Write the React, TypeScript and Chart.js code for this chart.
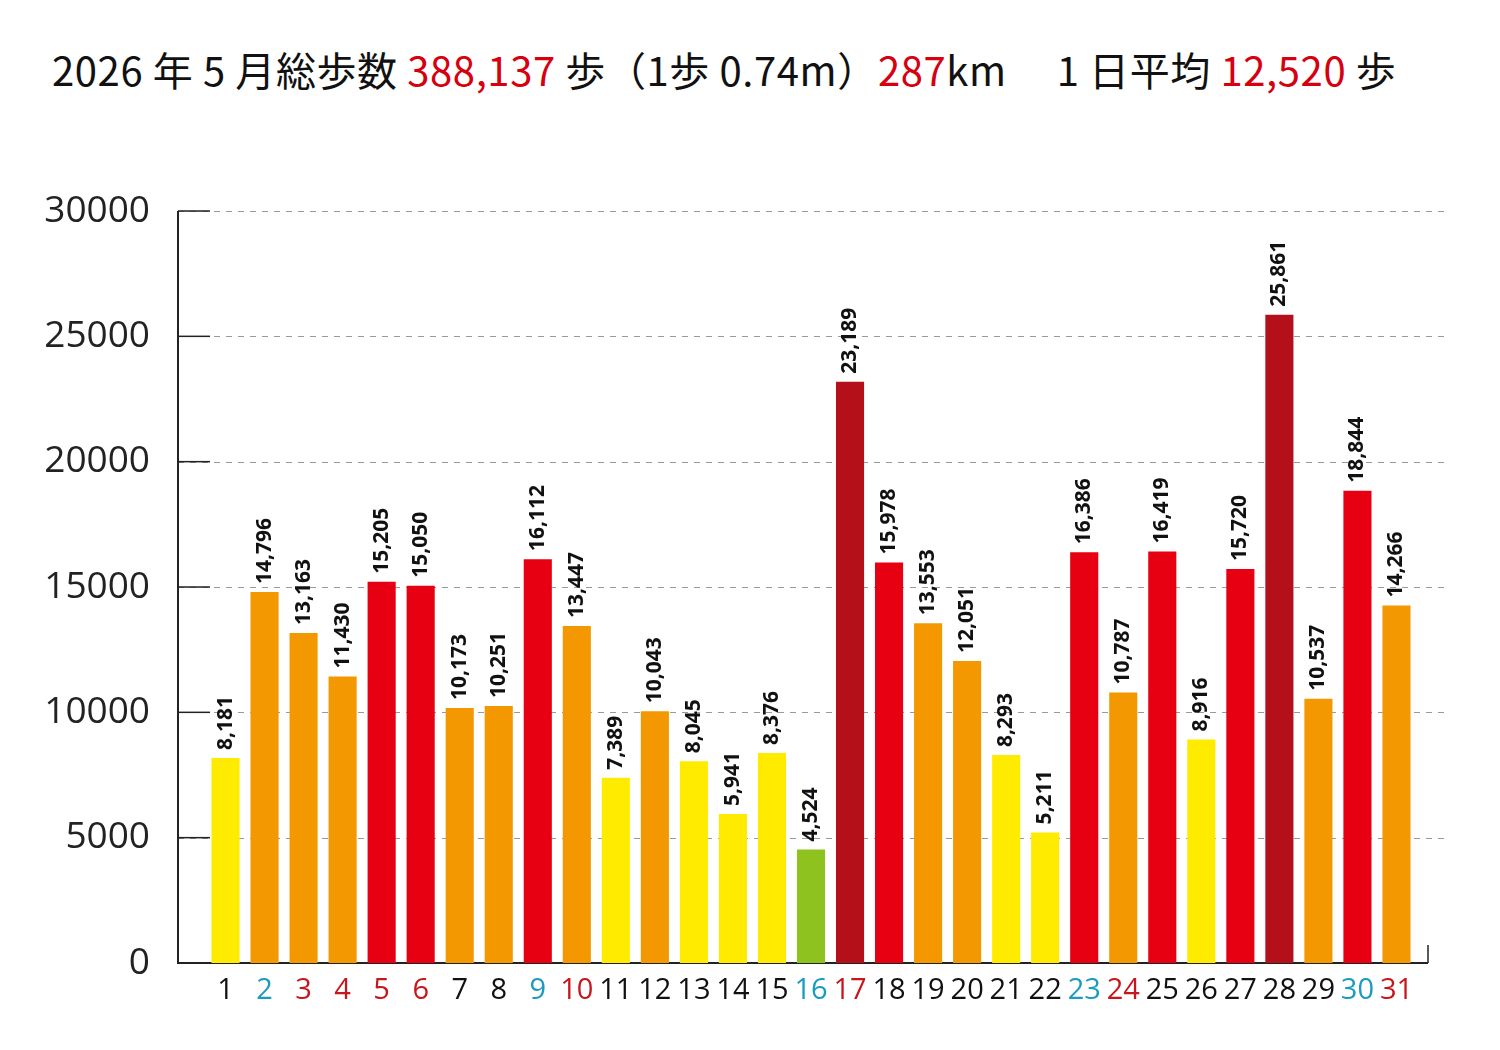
import React, { useEffect, useRef } from "react";
import { Chart, registerables } from "chart.js";
Chart.register(...registerables);

const days = Array.from({ length: 31 }, (_, i) => String(i + 1));
const steps = [8181, 14796, 13163, 11430, 15205, 15050, 10173, 10251, 16112, 13447, 7389, 10043, 8045, 5941, 8376, 4524, 23189, 15978, 13553, 12051, 8293, 5211, 16386, 10787, 16419, 8916, 15720, 25861, 10537, 18844, 14266];
const blueDays = [2, 9, 16, 23, 30];
const redDays = [3, 4, 5, 6, 10, 17, 24, 31];
const yTicks = [0, 5000, 10000, 15000, 20000, 25000, 30000];

const barColor = (v: number) =>
  v < 5000 ? "#8dc21f" : v < 10000 ? "#ffeb00" : v < 15000 ? "#f39800" : v < 20000 ? "#e60012" : "#b3101a";
const dayColor = (d: number) => (blueDays.includes(d) ? "#1a9bbf" : redDays.includes(d) ? "#c8161d" : "#111");

const FONT = "'Open Sans', 'Noto Sans', sans-serif";
const AXIS_X = 178;
const AXIS_RIGHT = 1428;
const GRID_RIGHT = 1445;

const labelPlugin = {
  id: "labels",
  beforeDatasetsDraw(chart: any) {
    const ctx = chart.ctx;
    const y = chart.scales.y;
    const a = chart.chartArea;
    ctx.save();
    ctx.strokeStyle = "#9a9a9a";
    ctx.lineWidth = 1;
    ctx.setLineDash([6, 6]);
    yTicks.slice(1).forEach((t) => {
      const py = Math.round(y.getPixelForValue(t)) + 0.5;
      ctx.beginPath();
      ctx.moveTo(AXIS_X, py);
      ctx.lineTo(GRID_RIGHT, py);
      ctx.stroke();
    });
    ctx.setLineDash([]);
    ctx.strokeStyle = "#222";
    ctx.lineWidth = 1.5;
    yTicks.forEach((t) => {
      const py = y.getPixelForValue(t);
      ctx.beginPath();
      ctx.moveTo(AXIS_X, py);
      ctx.lineTo(AXIS_X + 32, py);
      ctx.stroke();
    });
    ctx.lineWidth = 2;
    ctx.beginPath();
    ctx.moveTo(AXIS_X, y.getPixelForValue(30000));
    ctx.lineTo(AXIS_X, a.bottom);
    ctx.lineTo(AXIS_RIGHT, a.bottom);
    ctx.stroke();
    ctx.lineWidth = 1.5;
    ctx.beginPath();
    ctx.moveTo(AXIS_RIGHT, a.bottom);
    ctx.lineTo(AXIS_RIGHT, a.bottom - 18);
    ctx.stroke();
    ctx.restore();
  },
  afterDatasetsDraw(chart: any) {
    const ctx = chart.ctx;
    const meta = chart.getDatasetMeta(0);
    ctx.save();
    ctx.font = `bold 21px ${FONT}`;
    ctx.fillStyle = "#111";
    ctx.textAlign = "left";
    ctx.textBaseline = "middle";
    meta.data.forEach((bar: any, i: number) => {
      ctx.save();
      ctx.translate(bar.x, bar.y - 8);
      ctx.rotate(-Math.PI / 2);
      ctx.fillText(steps[i].toLocaleString("en-US"), 0, 0);
      ctx.restore();
    });
    ctx.restore();
  },
};

export default function App() {
  const ref = useRef<HTMLCanvasElement>(null);
  useEffect(() => {
    document.body.style.margin = "0";
    const chart = new Chart(ref.current!, {
      type: "bar",
      data: {
        labels: days,
        datasets: [{ data: steps, backgroundColor: steps.map(barColor), barPercentage: 0.72, categoryPercentage: 1 }],
      },
      options: {
        animation: false,
        responsive: false,
        layout: { padding: { top: 211, right: 84, bottom: 37, left: 0 } },
        plugins: { legend: { display: false }, tooltip: { enabled: false } },
        scales: {
          x: {
            grid: { display: false },
            border: { display: false },
            ticks: {
              color: (c: any) => dayColor(c.index + 1),
              font: { size: 29, family: FONT },
              padding: 2,
              maxRotation: 0,
              autoSkip: false,
            },
            afterFit: (s: any) => { s.height = 50; },
          },
          y: {
            min: 0,
            max: 30000,
            afterBuildTicks: (s: any) => { s.ticks = yTicks.map((v) => ({ value: v })); },
            grid: { display: false },
            border: { display: false },
            ticks: { color: "#222", font: { size: 37, family: FONT }, padding: 48, callback: (v: any) => String(v) },
            afterFit: (s: any) => { s.width = 206; },
          },
        },
      },
      plugins: [labelPlugin],
    } as any);
    return () => chart.destroy();
  }, []);

  const red = { color: "#d7000f" };
  return (
    <div style={{ position: "relative", width: 1500, height: 1050, background: "#fff" }}>
      <div
        style={{
          position: "absolute",
          left: 52,
          top: 40,
          fontSize: 40,
          letterSpacing: "0.6px",
          fontFamily: "'Noto Sans CJK JP', sans-serif",
          color: "#111",
          whiteSpace: "nowrap",
        }}
      >
        2026 年 5 月総歩数 <span style={red}>388,137</span> 歩（1歩 0.74m）<span style={red}>287</span>km　 1 日平均 <span style={red}>12,520</span> 歩
      </div>
      <canvas ref={ref} width={1500} height={1050} style={{ position: "absolute", left: 0, top: 0 }} />
    </div>
  );
}
